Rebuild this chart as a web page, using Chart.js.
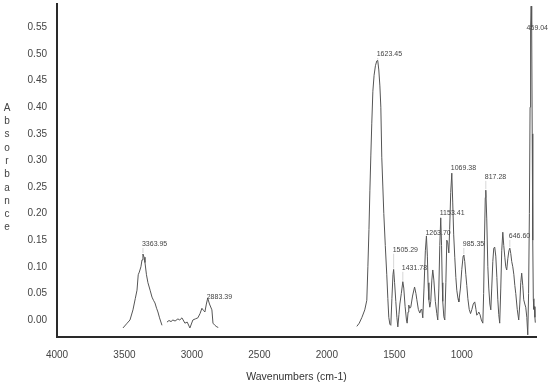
<!DOCTYPE html>
<html>
<head>
<meta charset="utf-8">
<script src="https://cdn.jsdelivr.net/npm/chart.js@4/dist/chart.umd.min.js"></script>
<style>
  html, body { margin: 0; padding: 0; background: #fff; }
  #wrap { width: 553px; height: 387px; }
</style>
</head>
<body>
<div id="wrap"><canvas id="ir"></canvas></div>
<script>
// IR spectrum. null = pen lifted.
const wavenumbers = [
  3511, 3480, 3459, 3437, 3420, 3407, 3398, 3390, 3378, 3370, 3363, 3355, 3348, 3337, 3326,
  3310, 3296, 3285, 3274, 3262, 3252, 3240, 3222, 3205,
  3185, 3170, 3155, 3141, 3125, 3104, 3090, 3074, 3052, 3035, 3015, 2993, 2975, 2956, 2940,
  2926, 2915, 2904, 2893, 2883, 2870, 2852, 2844, 2830, 2815, 2805, 2000,
  1778, 1760, 1740, 1719, 1704, 1696, 1688, 1681, 1674, 1667, 1659, 1650, 1640, 1630, 1623,
  1615, 1607, 1600, 1593, 1585, 1578, 1567, 1556, 1548, 1541, 1533, 1526, 1518, 1510, 1505,
  1498, 1489, 1481, 1474, 1466, 1459, 1448, 1437, 1430, 1420, 1410, 1405, 1398, 1393, 1385,
  1378, 1365, 1350, 1340, 1333, 1322, 1311, 1302, 1296, 1289, 1280, 1270, 1262, 1255, 1250,
  1244, 1237, 1230, 1222, 1215, 1207, 1196, 1185, 1178, 1170, 1163, 1156, 1150, 1145, 1141,
  1133, 1126, 1118, 1111, 1104, 1096, 1090, 1082, 1074, 1067, 1060, 1052, 1044, 1037, 1028,
  1022, 1010, 1000, 990, 985, 978, 970, 963, 955, 945, 935, 925, 915, 904, 895,
  889, 880, 874, 865, 855, 844, 838, 832, 826, 822, 815, 807, 800, 792, 785,
  778, 770, 763, 756, 748, 740, 733, 726, 719, 711, 704, 696, 689, 681, 674,
  667, 659, 651, 644, 637, 630, 622, 614, 607, 600, 589, 578, 570, 563, 556,
  548, 541, 533, 526, 518, 511, 505, 499, 494, 490, 486, 482, 478, 474, 470,
  466, 462, 458, 455
];
const absorbance = [
  -0.015, -0.006, 0.000, 0.019, 0.040, 0.056, 0.085, 0.090, 0.100, 0.113, 0.124, 0.118, 0.108, 0.085, 0.070,
  0.056, 0.043, 0.037, 0.032, 0.022, 0.015, 0.004, -0.010, null,
  -0.004, -0.001, -0.003, 0.000, -0.002, 0.002, 0.000, 0.004, -0.006, -0.004, -0.015, 0.000, 0.002, 0.004, 0.012,
  0.022, 0.018, 0.015, 0.030, 0.041, 0.030, 0.019, -0.006, -0.010, -0.013, -0.014, null,
  -0.012, -0.006, 0.005, 0.019, 0.037, 0.100, 0.170, 0.244, 0.310, 0.370, 0.430, 0.460, 0.478, 0.487, 0.488,
  0.470, 0.440, 0.400, 0.306, 0.250, 0.200, 0.140, 0.085, 0.040, 0.005, -0.008, -0.010, 0.040, 0.085, 0.095,
  0.070, 0.035, 0.005, -0.013, 0.010, 0.030, 0.050, 0.072, 0.060, 0.025, 0.000, -0.006, 0.015, 0.028, 0.022,
  0.024, 0.045, 0.062, 0.050, 0.038, 0.020, 0.013, 0.020, 0.019, 0.004, 0.060, 0.130, 0.158, 0.120, 0.070,
  0.038, 0.024, 0.035, 0.075, 0.094, 0.075, 0.035, 0.012, 0.000, 0.060, 0.140, 0.192, 0.140, 0.070, 0.035,
  0.006, 0.000, 0.070, 0.150, 0.145, 0.126, 0.170, 0.240, 0.276, 0.220, 0.160, 0.118, 0.080, 0.056, 0.040,
  0.034, 0.060, 0.095, 0.120, 0.122, 0.110, 0.085, 0.065, 0.040, 0.020, 0.012, 0.020, 0.030, 0.034, 0.020,
  0.009, 0.012, 0.015, 0.010, 0.000, -0.006, 0.050, 0.150, 0.230, 0.244, 0.190, 0.100, 0.060, 0.030, 0.019,
  0.060, 0.110, 0.135, 0.137, 0.120, 0.080, 0.038, 0.010, -0.006, 0.060, 0.130, 0.165, 0.140, 0.118, 0.100,
  0.094, 0.115, 0.130, 0.135, 0.125, 0.110, 0.100, 0.085, 0.065, 0.050, 0.020, 0.000, 0.030, 0.070, 0.088,
  0.065, 0.038, 0.030, 0.024, 0.005, -0.028, 0.050, 0.200, 0.400, 0.550, 0.590, 0.550, 0.350, 0.150, 0.040,
  0.020, 0.025, 0.005, -0.005
];

// peak annotations
const peakText = ["3363.95", "2883.39", "1623.45", "1505.29", "1431.78", "1263.70",
  "1153.41", "1069.38", "985.35", "817.28", "646.60", "469.04"];
const peakWn = [3363, 2883, 1623, 1505, 1437, 1262, 1156, 1074, 985, 822, 644, 490];
const peakAbs = [0.124, 0.041, 0.488, 0.095, 0.072, 0.158, 0.192, 0.276, 0.122, 0.244, 0.135, 0.549];
const labelAbs = [0.143, 0.043, 0.500, 0.132, 0.098, 0.164, 0.201, 0.286, 0.143, 0.269, 0.158, 0.549];

const xTicks = [4000, 3500, 3000, 2500, 2000, 1500, 1000];
const yTicks = [0, 0.05, 0.10, 0.15, 0.20, 0.25, 0.30, 0.35, 0.40, 0.45, 0.50, 0.55];
const yTitle = "Absorbance";

const FONT = "'Liberation Sans', Arial, sans-serif";

const irText = {
  id: "irText",
  afterDraw(chart) {
    const { ctx, scales: { x, y } } = chart;
    ctx.save();
    // stacked y title
    ctx.fillStyle = "#444";
    ctx.font = "10px " + FONT;
    ctx.textAlign = "center";
    ctx.textBaseline = "middle";
    [...yTitle].forEach((ch, i) => ctx.fillText(ch, 7, 108 + i * 13.3));

    // peak labels
    ctx.font = "7px " + FONT;
    ctx.textAlign = "left";
    peakText.forEach((t, i) => {
      const px = x.getPixelForValue(peakWn[i]);
      const py = y.getPixelForValue(peakAbs[i]);
      const ly = y.getPixelForValue(labelAbs[i]);
      if (py - ly > 6) {
        ctx.strokeStyle = "#bbb";
        ctx.lineWidth = 0.6;
        ctx.beginPath();
        ctx.moveTo(px, py - 1);
        ctx.lineTo(px, ly + 4);
        ctx.stroke();
      }
      ctx.fillStyle = "#444";
      ctx.fillText(t, i === peakText.length - 1 ? px - 4 : px - 1, ly);
    });
    ctx.restore();
  }
};

new Chart(document.getElementById("ir"), {
  type: "line",
  data: {
    datasets: [{
      data: wavenumbers.map((w, i) => ({ x: w, y: absorbance[i] })),
      borderColor: "#555",
      borderWidth: 1,
      pointRadius: 0,
      tension: 0,
      spanGaps: false,
      fill: false,
    }]
  },
  options: {
    animation: false,
    responsive: true,
    maintainAspectRatio: false,
    layout: { padding: { top: 4, right: 17, bottom: 0, left: 0 } },
    plugins: { legend: { display: false }, tooltip: { enabled: false } },
    scales: {
      x: {
        type: "linear", reverse: true, min: 450, max: 4000,
        grid: { display: false, drawTicks: false },
        border: { display: true, color: "#2a2a2a", width: 2 },
        ticks: { color: "#444", font: { family: FONT, size: 10 }, padding: 12,
          maxRotation: 0, autoSkip: false, callback: (v) => v },
        afterBuildTicks: (s) => { s.ticks = xTicks.map((v) => ({ value: v })); },
        afterFit: (s) => { s.height = 50; s.paddingLeft = 0; s.paddingRight = 0; },
        title: { display: true, text: "Wavenumbers (cm-1)", color: "#333",
          font: { family: FONT, size: 10.5 }, padding: { top: 0, bottom: 4 } },
      },
      y: {
        min: -0.032, max: 0.594,
        grid: { display: false, drawTicks: false },
        border: { display: true, color: "#2a2a2a", width: 2 },
        ticks: { color: "#444", font: { family: FONT, size: 10 }, padding: 10,
          callback: (v) => v.toFixed(2) },
        afterBuildTicks: (s) => { s.ticks = yTicks.map((v) => ({ value: v })); },
        afterFit: (s) => { s.width = 57; s.paddingTop = 0; s.paddingBottom = 0; },
      }
    }
  },
  plugins: [irText]
});
</script>
</body>
</html>
